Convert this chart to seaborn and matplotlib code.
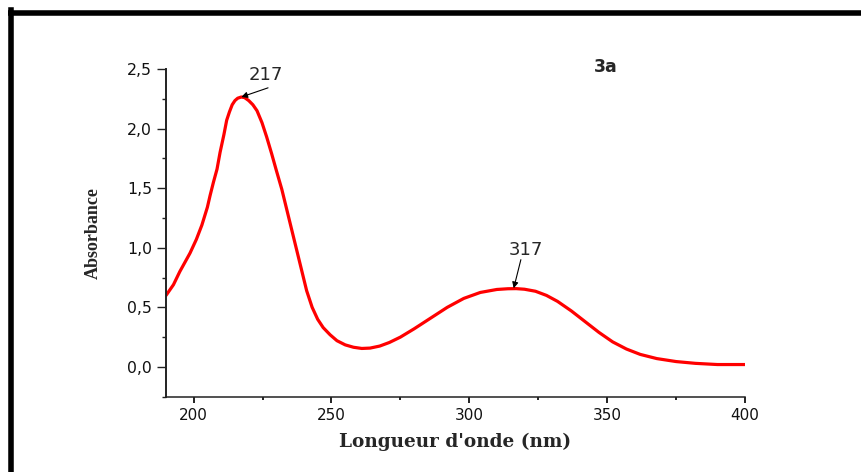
import matplotlib
matplotlib.use("Agg")
import matplotlib.pyplot as plt
import matplotlib.ticker as mticker
from matplotlib.lines import Line2D
import seaborn as sns
import pandas as pd

# Data
wavelength = [190, 192.7, 195, 198.7, 201, 203, 205, 206, 207.2, 208.5, 209.6, 211, 212, 213,
              214, 215, 216, 217.3, 218.5, 220, 221.5, 223, 224.8, 226.5, 228.3, 230, 232,
              233.8, 235.6, 237.4, 239.2, 241, 243, 245, 247, 249.5, 252, 255, 258, 261,
              264, 267.5, 271, 275, 280, 286, 292, 298, 304, 310, 314, 317, 320, 324, 328,
              332, 337, 342, 347, 352, 357, 362, 368, 375, 382, 390, 400]
absorbance = [0.60, 0.69, 0.80, 0.955, 1.07, 1.19, 1.34, 1.44, 1.55, 1.66, 1.80, 1.95, 2.07, 2.14,
              2.20, 2.235, 2.255, 2.265, 2.26, 2.235, 2.20, 2.15, 2.05, 1.93, 1.79, 1.65, 1.49,
              1.32, 1.15, 0.98, 0.81, 0.64, 0.50, 0.40, 0.33, 0.27, 0.22, 0.185, 0.165, 0.155,
              0.158, 0.175, 0.205, 0.25, 0.32, 0.41, 0.50, 0.575, 0.625, 0.65, 0.656, 0.657, 0.652, 0.635, 0.60,
              0.55, 0.47, 0.38, 0.29, 0.21, 0.15, 0.105, 0.07, 0.045, 0.03, 0.02, 0.02]
peak_labels = ["217", "317"]
peak_x = [217.3, 316.1]
peak_y = [2.265, 0.66]
panel_label = "3a"
x_label = "Longueur d'onde (nm)"
y_label = "Absorbance"

df = pd.DataFrame({"wavelength": wavelength, "absorbance": absorbance})

sns.set_style("ticks")
plt.rcParams["font.family"] = ["DejaVu Sans"]

fig = plt.figure(figsize=(8.62, 4.72), dpi=100)
ax = fig.add_axes([0.1926, 0.1595, 0.8643 - 0.1926, 0.8538 - 0.1595])

line_kw = dict(solid_joinstyle="round", solid_capstyle="round")
sns.lineplot(data=df, x="wavelength", y="absorbance", sort=False, color="#ff0000",
             linewidth=2.3, ax=ax, estimator=None, **line_kw)

ax.set_xlim(190, 400)
ax.set_ylim(-0.25, 2.5)
ax.xaxis.set_major_locator(mticker.MultipleLocator(50))
ax.xaxis.set_minor_locator(mticker.MultipleLocator(25))
ax.yaxis.set_major_locator(mticker.MultipleLocator(0.5))
ax.yaxis.set_minor_locator(mticker.MultipleLocator(0.25))
ax.yaxis.set_major_formatter(mticker.FuncFormatter(lambda v, p: f"{v:.1f}".replace(".", ",")))
ax.xaxis.set_major_formatter(mticker.FuncFormatter(lambda v, p: f"{v:.0f}"))

for s in ["top", "right"]:
    ax.spines[s].set_visible(False)
ax.spines["left"].set_linewidth(1.4)
ax.spines["bottom"].set_linewidth(1.1)
for s in ["left", "bottom"]:
    ax.spines[s].set_color("#222222")

ax.tick_params(axis="y", which="major", length=6.5, width=1.0, labelsize=11.3,
               color="#222222", labelcolor="#111111", pad=3.5)
ax.tick_params(axis="y", which="minor", length=3.2, width=1.0, color="#222222")
ax.tick_params(axis="x", which="major", length=4.3, width=1.4, labelsize=11,
               color="#222222", labelcolor="#111111", pad=3.5)
ax.tick_params(axis="x", which="minor", length=2.2, width=1.4, color="#222222")

ax.set_xlabel(x_label, family=["DejaVu Serif"], fontweight="bold",
              fontsize=13.3, labelpad=7)
ax.set_ylabel(y_label, family=["Liberation Serif", "DejaVu Serif"], fontweight="bold",
              fontsize=13, labelpad=18)

# peak annotations
ax.text(226.3, 2.45, peak_labels[0], ha="center", va="center", fontsize=13)
ax.annotate("", xy=(peak_x[0], peak_y[0]), xytext=(227.0, 2.342),
            arrowprops=dict(arrowstyle="-|>", color="black", lw=0.8, shrinkA=0, shrinkB=0,
                            mutation_scale=9))
ax.text(320.5, 0.985, peak_labels[1], ha="center", va="center", fontsize=13)
ax.annotate("", xy=(peak_x[1], peak_y[1]), xytext=(318.7, 0.90),
            arrowprops=dict(arrowstyle="-|>", color="black", lw=0.8, shrinkA=0, shrinkB=0,
                            mutation_scale=9))
ax.text(0.760, 1.006, panel_label, transform=ax.transAxes, ha="center", va="center",
        fontsize=12.5, fontweight="bold")

# black frame around the figure
W, H = 862, 472
fig.add_artist(Line2D([10.7 / W, 10.7 / W], [0, 1 - 10 / H], transform=fig.transFigure,
                      color="black", lw=4.0, solid_capstyle="projecting"))
fig.add_artist(Line2D([8 / W, 1.0], [1 - 12.8 / H, 1 - 12.8 / H], transform=fig.transFigure,
                      color="black", lw=4.0, solid_capstyle="butt"))

fig.savefig("out.png", dpi=100, facecolor="white")
